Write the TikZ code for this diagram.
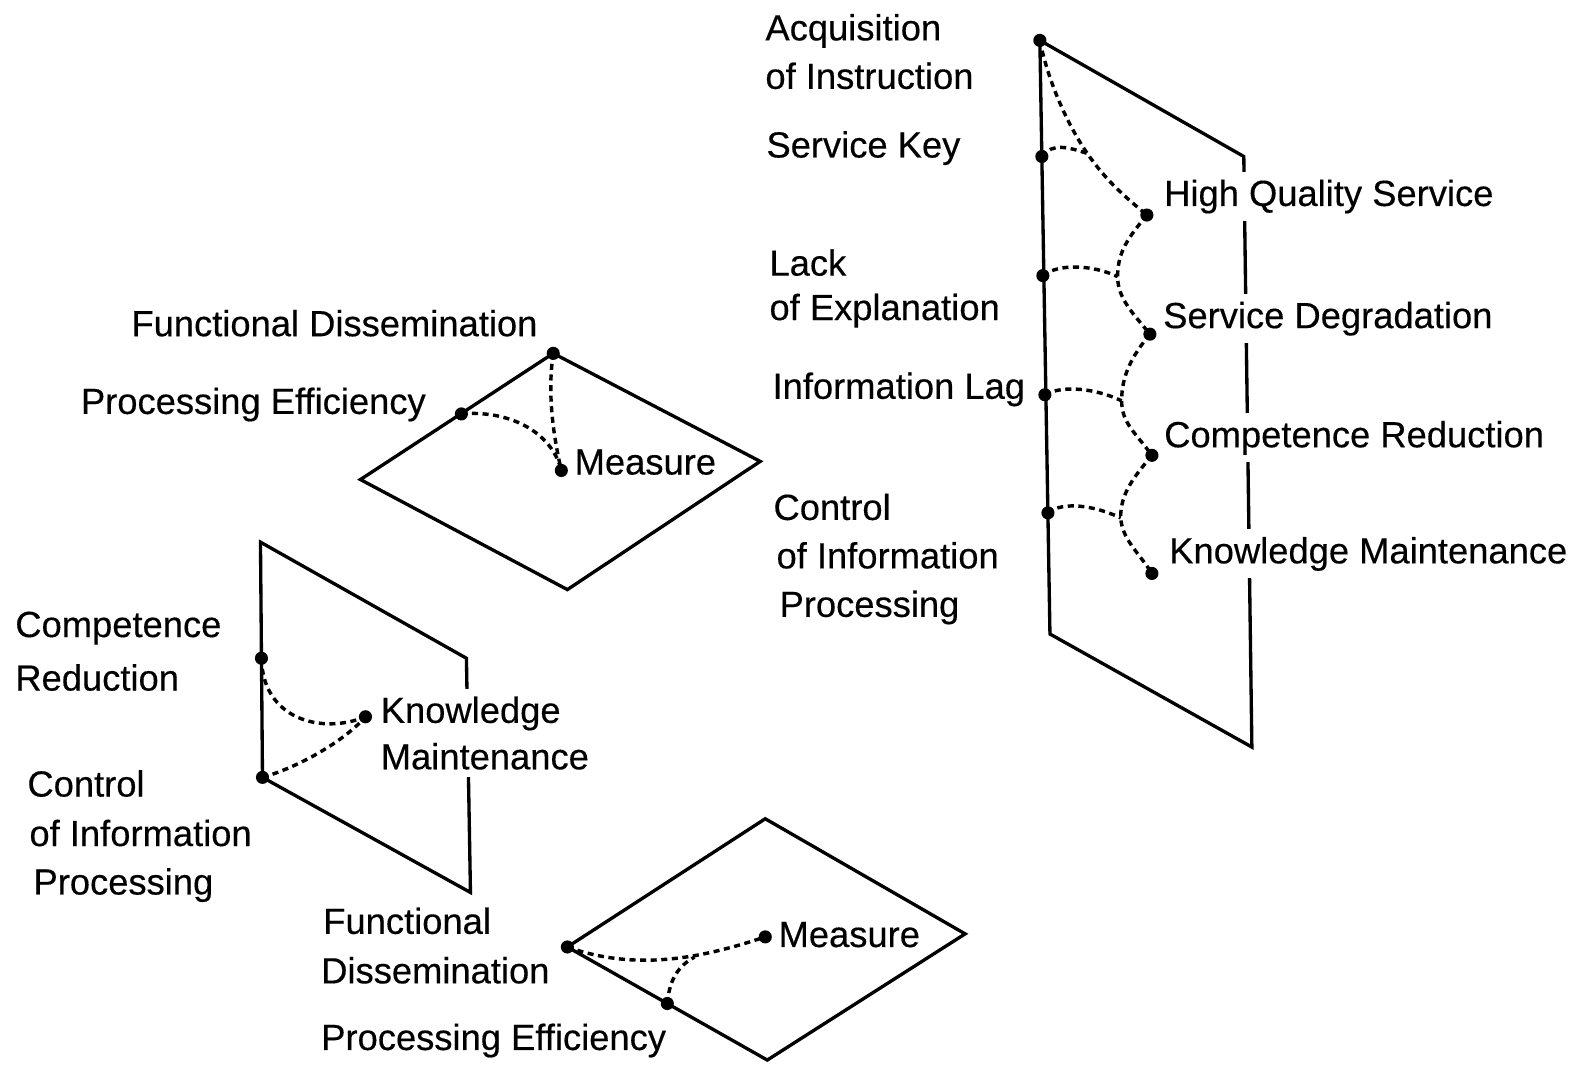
\documentclass[tikz,border=0pt]{standalone}
\usepackage{fontspec}
\setmainfont{Liberation Sans}[FakeBold=0.35]
\begin{document}
\begin{tikzpicture}[x=1pt,y=-1pt,
  edge/.style={line width=3.3pt, line join=miter},
  link/.style={line width=3.4pt, dash pattern=on 6pt off 4.5pt},
  dot/.style={circle, fill=black, inner sep=0pt, minimum size=13pt},
  lbl/.style={font=\fontsize{36}{46}\selectfont, inner sep=0pt, anchor=base west},
  gaplbl/.style={lbl, fill=white, inner ysep=7.5pt}]
\useasboundingbox (0,0) rectangle (1568,1057);

% ---------- upright panel (right) ----------
\coordinate (rA) at (1030,40);
\coordinate (rB) at (1232,155);
\coordinate (rC) at (1240,740);
\coordinate (rD) at (1040,628);
\draw[edge] (rA) -- (rB) -- (rC) -- (rD) -- cycle;

\node[dot] (acq)  at (rA) {};
\node[dot] (sk)   at (1032,155) {};
\node[dot] (lack) at (1033,273) {};
\node[dot] (ilag) at (1035,391) {};
\node[dot] (ctrl) at (1038,508) {};
\node[dot] (hqs)  at (1136,213) {};
\node[dot] (sd)   at (1139,331) {};
\node[dot] (cr)   at (1141,451) {};
\node[dot] (km)   at (1141,568) {};
\coordinate (j0) at (1077,152);
\coordinate (j1) at (1107,274);
\coordinate (j2) at (1111,397);
\coordinate (j3) at (1110,513);

\draw[link] (acq.center) .. controls +(8,40) and +(-20,-29) .. (j0)
                         .. controls +(20,29) and +(-20,-17) .. (hqs.center);
\draw[link] (sk.center) .. controls +(10,-14) and +(-18,-6) .. (j0);
\draw[link] (hqs.center) .. controls +(-18,22) and +(0,-25) .. (j1)
                         .. controls +(0,22) and +(-16,-20) .. (sd.center);
\draw[link] (lack.center) .. controls +(15,-12) and +(-25,-12) .. (j1);
\draw[link] (sd.center) .. controls +(-18,22) and +(0,-25) .. (j2)
                        .. controls +(0,22) and +(-16,-22) .. (cr.center);
\draw[link] (ilag.center) .. controls +(18,-10) and +(-25,-12) .. (j2);
\draw[link] (cr.center) .. controls +(-18,22) and +(0,-25) .. (j3)
                        .. controls +(2,22) and +(-14,-22) .. (km.center);
\draw[link] (ctrl.center) .. controls +(15,-12) and +(-25,-12) .. (j3);

\node[lbl] (tAcq)  at (758,40)  {Acquisition};
\node[lbl] (tAcq2) at (758,88)  {of Instruction};
\node[lbl] (tSk)   at (759,156) {Service Key};
\node[lbl] (tLack) at (762,273) {Lack};
\node[lbl] (tLack2) at (762,317) {of Explanation};
\node[lbl] (tIlag) at (765,395) {Information Lag};
\node[lbl] (tCtrl) at (766,515) {Control};
\node[lbl] (tCtrl2) at (769,563) {of Information};
\node[lbl] (tCtrl3) at (772,611) {Processing};
\node[gaplbl] (tHqs) at (1153,204) {High Quality Service};
\node[gaplbl] (tSd)  at (1152,325) {Service Degradation};
\node[gaplbl] (tCr)  at (1153,443) {Competence Reduction};
\node[gaplbl] (tKm)  at (1158,558) {Knowledge Maintenance};

% ---------- flat panel (upper middle) ----------
\coordinate (uT) at (548,350);
\coordinate (uL) at (357,475);
\coordinate (uB) at (562,584);
\coordinate (uR) at (753,457);
\draw[edge] (uT) -- (uR) -- (uB) -- (uL) -- cycle;

\node[dot] (fd1) at (uT) {};
\node[dot] (pe1) at (457,410) {};
\node[dot] (ms1) at (556,466) {};
\draw[link] (fd1.center) .. controls +(-6,40) and +(-8,-35) .. (ms1.center);
\draw[link] (pe1.center) .. controls +(45,-4) and +(-10,-40) .. (ms1.center);

\node[lbl] (tFd1) at (130,333) {Functional Dissemination};
\node[lbl] (tPe1) at (80,410)  {Processing Efficiency};
\node[lbl] (tMs1) at (569,470) {Measure};

% ---------- upright panel (left) ----------
\coordinate (lA) at (258,537);
\coordinate (lB) at (462,652);
\coordinate (lC) at (466,884);
\coordinate (lD) at (260,770);
\draw[edge] (lA) -- (lB) -- (lC) -- (lD) -- cycle;

\node[dot] (cr2)   at (259,652) {};
\node[dot] (ctrl2) at (lD) {};
\node[dot] (km2)   at (362,710) {};
\draw[link] (cr2.center) .. controls +(1,60) and +(-44,18) .. (km2.center);
\draw[link] (ctrl2.center) .. controls +(35,-10) and +(-22,25) .. (km2.center);

\node[lbl] (tCr2)  at (15,631) {Competence};
\node[lbl] (tCr2b) at (15,684) {Reduction};
\node[gaplbl] (tKm2) at (377,716) {Knowledge};
\node[gaplbl] (tKm2b) at (377,762) {Maintenance};
\node[lbl] (tCt2)  at (27,789) {Control};
\node[lbl] (tCt2b) at (29,838) {of Information};
\node[lbl] (tCt2c) at (33,886) {Processing};

% ---------- flat panel (bottom) ----------
\coordinate (bL) at (562,938);
\coordinate (bT) at (758,811);
\coordinate (bR) at (956,925);
\coordinate (bB) at (760,1050);
\draw[edge] (bL) -- (bT) -- (bR) -- (bB) -- cycle;

\node[dot] (fd2) at (bL) {};
\node[dot] (pe2) at (661,994) {};
\node[dot] (ms2) at (758,928) {};
\coordinate (j4) at (688,948);
\draw[link] (fd2.center) .. controls +(70,25) and +(-60,20) .. (ms2.center);
\draw[link] (pe2.center) .. controls +(2,-25) and +(-15,8) .. (j4);

\node[lbl] (tFd2)  at (320,925) {Functional};
\node[lbl] (tFd2b) at (318,974) {Dissemination};
\node[lbl] (tPe2)  at (318,1040) {Processing Efficiency};
\node[lbl] (tMs2)  at (771,938) {Measure};
\end{tikzpicture}
\end{document}
